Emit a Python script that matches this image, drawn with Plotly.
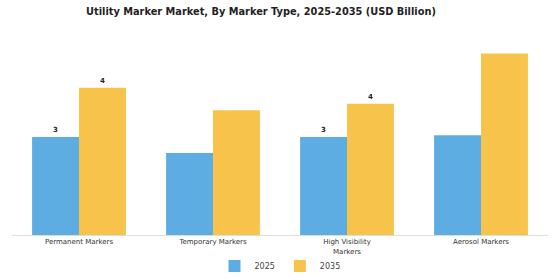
import plotly.graph_objects as go

categories = ["Permanent Markers", "Temporary Markers", "High Visibility<br>Markers", "Aerosol Markers"]
years = ["2025", "2035"]
values_2025 = [2.87, 2.40, 2.87, 2.92]
values_2035 = [4.31, 3.65, 3.84, 5.31]
show_label_2025 = [True, False, True, False]
show_label_2035 = [True, False, True, False]
colors = ["#5DADE2", "#F7C34A"]

def labels(vals, show):
    return [f"{v:.0f}" if s else "" for v, s in zip(vals, show)]

fig = go.Figure()
for name, vals, show, col in [
    (years[0], values_2025, show_label_2025, colors[0]),
    (years[1], values_2035, show_label_2035, colors[1]),
]:
    fig.add_trace(go.Bar(
        x=categories, y=vals, name=name, marker_color=col, marker_line_width=0,
        text=labels(vals, show), textposition="outside", cliponaxis=False,
        textfont=dict(family="DejaVu Sans", size=7, color="#222222", weight="bold"),
    ))

fig.update_layout(
    width=560, height=280,
    margin=dict(l=12, r=12, t=30, b=45, autoexpand=False),
    paper_bgcolor="white", plot_bgcolor="white",
    barmode="group", bargap=0.3, bargroupgap=0,
    title=dict(text="<b>Utility Marker Market, By Marker Type, 2025-2035 (USD Billion)</b>",
               x=0.466, xanchor="center", y=0.96, yanchor="middle",
               font=dict(family="DejaVu Sans", size=9.8, color="#222222")),
    font=dict(family="DejaVu Sans", size=7, color="#333333"),
    legend=dict(orientation="h", x=0.5, xanchor="center", yref="container", y=0.05, yanchor="middle",
                font=dict(size=8, color="#444444"), itemwidth=30, bgcolor="rgba(0,0,0,0)"),
    showlegend=True,
)
fig.update_xaxes(showline=True, linecolor="#dddddd", linewidth=1, ticks="", automargin=False,
                 tickfont=dict(size=7, color="#333333"), showgrid=False)
fig.update_yaxes(visible=False, range=[0, 6.0], showgrid=False)

fig.write_html("out.html")
